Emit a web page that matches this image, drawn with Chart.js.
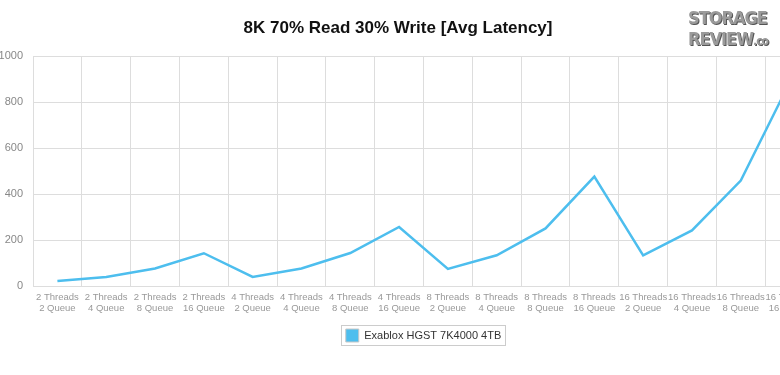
<!DOCTYPE html>
<html>
<head>
<meta charset="utf-8">
<script src="https://cdn.jsdelivr.net/npm/chart.js@4"></script>
<style>
  html, body { margin: 0; padding: 0; background: #fff; overflow: hidden; width: 780px; height: 375px; }
  #wrap { position: absolute; left: 0; top: 0; width: 830px; height: 375px; }
  #title { position: absolute; left: 0; top: 18px; width: 796px; text-align: center;
           font: bold 17px "Liberation Sans", Arial, sans-serif; color: #111; }
  #logo { position: absolute; left: 688px; top: 7px; width: 100px; line-height: 17px;
          font: bold 18px "DejaVu Sans Condensed", "Liberation Sans Narrow", sans-serif; color: #9a9a9a;
          letter-spacing: -1px; text-shadow: 1px 1px 0 #555; }
</style>
</head>
<body>
<div id="wrap"><canvas id="c" width="830" height="375"></canvas></div>
<div id="title">8K 70% Read 30% Write [Avg Latency]</div>
<div id="logo">STORAGE<br>REVIEW<span style="font-size:12px">.co</span></div>
<script>
const threads = ['2 Threads','2 Threads','2 Threads','2 Threads','4 Threads','4 Threads','4 Threads','4 Threads',
                 '8 Threads','8 Threads','8 Threads','8 Threads','16 Threads','16 Threads','16 Threads','16 Threads'];
const queues = ['2 Queue','4 Queue','8 Queue','16 Queue','2 Queue','4 Queue','8 Queue','16 Queue',
                '2 Queue','4 Queue','8 Queue','16 Queue','2 Queue','4 Queue','8 Queue','16 Queue'];
const seriesName = 'Exablox HGST 7K4000 4TB';
const latency = [22, 40, 77, 143, 40, 77, 144, 257, 75, 134, 251, 476, 134, 242, 459, 885];
const yTicks = [0, 200, 400, 600, 800, 1000];

const labels = threads.map((t, i) => [t, queues[i]]);
const lineColor = '#4DBEEE';

const legendBorder = {
  id: 'legendBorder',
  afterDraw(chart) {
    const lg = chart.legend;
    if (!lg || !lg.legendHitBoxes || !lg.legendHitBoxes.length) return;
    const hb = lg.legendHitBoxes[0];
    const ctx = chart.ctx;
    ctx.save();
    ctx.strokeStyle = '#cccccc';
    ctx.lineWidth = 1;
    ctx.strokeRect(Math.round(hb.left - 5) + 0.5, Math.round(hb.top - 4) + 0.5,
                   Math.round(hb.width + 9), Math.round(hb.height + 7));
    ctx.restore();
  }
};

new Chart(document.getElementById('c'), {
  type: 'line',
  data: {
    labels: labels,
    datasets: [{
      label: seriesName,
      data: latency,
      borderColor: lineColor,
      backgroundColor: lineColor,
      borderWidth: 2.5,
      pointRadius: 0,
      pointHoverRadius: 0,
      tension: 0,
      fill: false
    }]
  },
  options: {
    responsive: false,
    animation: false,
    layout: { padding: { top: 56, right: 16, bottom: 23, left: 0 } },
    plugins: {
      title: { display: false },
      tooltip: { enabled: false },
      legend: {
        position: 'bottom',
        fullSize: false,
        labels: {
          boxWidth: 13, boxHeight: 13, padding: 9,
          color: '#333',
          font: { family: '"Liberation Sans", Arial, sans-serif', size: 11 },
          generateLabels(chart) {
            const items = Chart.defaults.plugins.legend.labels.generateLabels(chart);
            items.forEach(it => { it.strokeStyle = '#c8c8c8'; it.lineWidth = 1; it.fillStyle = lineColor; });
            return items;
          }
        }
      }
    },
    scales: {
      x: {
        type: 'category',
        offset: true,
        grid: { offset: true, color: '#dddddd', drawTicks: false },
        border: { color: '#dddddd' },
        ticks: {
          autoSkip: false, maxRotation: 0, minRotation: 0, padding: 6,
          color: '#999999',
          font: { family: '"Liberation Sans", Arial, sans-serif', size: 9.5, lineHeight: 1.15 }
        }
      },
      y: {
        min: 0, max: 1000,
        afterBuildTicks(scale) { scale.ticks = yTicks.map(v => ({ value: v })); },
        afterFit(scale) { scale.width = 33; },
        grid: { color: '#dddddd', drawTicks: false },
        border: { color: '#dddddd' },
        ticks: {
          padding: 10,
          color: '#888888',
          callback: (v) => String(v),
          font: { family: '"Liberation Sans", Arial, sans-serif', size: 11 }
        }
      }
    }
  },
  plugins: [legendBorder]
});
</script>
</body>
</html>
